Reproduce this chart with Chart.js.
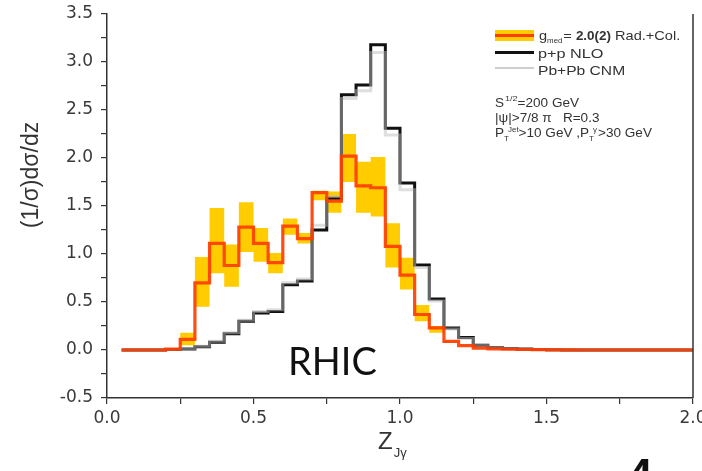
<!DOCTYPE html>
<html>
<head>
<meta charset="utf-8">
<script src="https://cdn.jsdelivr.net/npm/chart.js@4.4.1/dist/chart.umd.min.js"></script>
<style>
  html, body { margin: 0; padding: 0; background: #fff; }
  #wrap { width: 702px; height: 471px; position: relative; }
</style>
</head>
<body>
<div id="wrap"><canvas id="chart" width="702" height="471"></canvas></div>
<script>
// lower edge of each z bin (width 0.05)
const binEdges = [0.05, 0.10, 0.15, 0.20, 0.25, 0.30, 0.35, 0.40, 0.45, 0.50,
                  0.55, 0.60, 0.65, 0.70, 0.75, 0.80, 0.85, 0.90, 0.95, 1.00,
                  1.05, 1.10, 1.15, 1.20, 1.25, 1.30, 1.35, 1.40, 1.45, 1.50,
                  1.55, 1.60, 1.65, 1.70, 1.75, 1.80, 1.85, 1.90, 1.95];
const lastEdge = 2.0;

// g_med = 2.0(2) Rad.+Col.
const medValues = [0, 0, 0, 0.01, 0.11, 0.70, 1.11, 0.88, 1.28, 1.11,
                   0.91, 1.29, 1.16, 1.64, 1.55, 2.02, 1.71, 1.69, 1.08, 0.78,
                   0.37, 0.23, 0.09, 0.045, 0.02, 0.012, 0.008, 0.005, 0.003, 0.002,
                   0.001, 0, 0, 0, 0, 0, 0, 0, 0];
const medLow    = [0, 0, 0, 0.01, 0.05, 0.45, 0.80, 0.66, 1.02, 0.92,
                   0.80, 1.20, 1.11, 1.56, 1.43, 1.75, 1.43, 1.39, 0.86, 0.63,
                   0.30, 0.18, 0.08, 0.045, 0.02, 0.012, 0.008, 0.005, 0.003, 0.002,
                   0.001, 0, 0, 0, 0, 0, 0, 0, 0];
const medHigh   = [0, 0, 0, 0.01, 0.18, 0.97, 1.48, 1.10, 1.54, 1.27,
                   1.01, 1.37, 1.22, 1.66, 1.65, 2.25, 1.96, 2.01, 1.32, 0.96,
                   0.47, 0.25, 0.10, 0.045, 0.02, 0.012, 0.008, 0.005, 0.003, 0.002,
                   0.001, 0, 0, 0, 0, 0, 0, 0, 0];
// p+p NLO
const ppValues  = [0, 0, 0, 0.005, 0.01, 0.035, 0.08, 0.17, 0.30, 0.385,
                   0.40, 0.68, 0.72, 1.25, 1.58, 2.66, 2.76, 3.18, 2.31, 1.74,
                   0.885, 0.53, 0.23, 0.13, 0.05, 0.025, 0.015, 0.01, 0.006, 0.003,
                   0.001, 0, 0, 0, 0, 0, 0, 0, 0];
// Pb+Pb CNM
const cnmValues = [0, 0, 0, 0.005, 0.01, 0.04, 0.09, 0.18, 0.31, 0.40,
                   0.42, 0.70, 0.74, 1.30, 1.60, 2.62, 2.70, 3.10, 2.24, 1.67,
                   0.86, 0.51, 0.22, 0.12, 0.05, 0.025, 0.015, 0.01, 0.006, 0.003,
                   0.001, 0, 0, 0, 0, 0, 0, 0, 0];

const xTicks = [0.0, 0.5, 1.0, 1.5, 2.0];
const yTicks = [-0.5, 0.0, 0.5, 1.0, 1.5, 2.0, 2.5, 3.0, 3.5];

const FONT = "'Liberation Sans', Arial, sans-serif";
const TICKFONT = "'DejaVu Sans', sans-serif";
const TXT = '#333';

function steps(vals) {
    const pts = binEdges.map((x, i) => ({ x: x, y: vals[i] }));
    pts.push({ x: lastEdge, y: vals[vals.length - 1] });
    return pts;
}

function isMajor(v, list) { return list.some(t => Math.abs(t - v) < 1e-6); }

// 'before' in chart.js: horizontal at the previous value, then vertical
const lineBase = { stepped: 'before', pointRadius: 0, fill: false, tension: 0 };

// --- extra drawing: frame, legend, notes, titles ---
const decor = {
    id: 'decor',
    afterDraw(chart) {
        const ctx = chart.ctx, a = chart.chartArea;
        ctx.save();
        // right frame
        ctx.strokeStyle = TXT; ctx.lineWidth = 1.5;
        ctx.beginPath(); ctx.moveTo(a.right, a.top); ctx.lineTo(a.right, a.bottom); ctx.stroke();

        ctx.textBaseline = 'alphabetic';
        ctx.fillStyle = TXT;
        // text drawn slightly stretched sideways, like the scanned figure
        const put = (t, x, y, size, bold, sx) => {
            sx = sx || 1;
            ctx.font = (bold ? 'bold ' : '') + size + 'px ' + FONT;
            ctx.save();
            ctx.translate(x, y); ctx.scale(sx, 1);
            ctx.fillText(t, 0, 0);
            ctx.restore();
            return x + ctx.measureText(t).width * sx;
        };

        // legend
        ctx.fillStyle = '#ffcc00'; ctx.fillRect(495, 30, 39, 11);
        ctx.fillStyle = '#ff3d00'; ctx.fillRect(495, 34, 39, 3);
        ctx.fillStyle = '#111'; ctx.fillRect(495, 51, 39, 3);
        ctx.fillStyle = '#cfcfcf'; ctx.fillRect(495, 67, 39, 2);

        ctx.fillStyle = TXT;
        const s1 = 1.12;
        let x = put('g', 539, 40, 13, false, s1);
        x = put('med', x, 43, 7, false, s1);
        x = put('= ', x + 1, 40, 13, false, s1);
        x = put('2.0(2)', x, 40, 12, true, s1);
        put(' Rad.+Col.', x, 40, 13, false, s1);
        put('p+p NLO', 538, 58, 13, false, 1.25);
        put('Pb+Pb CNM', 538, 75, 13, false, 1.2);

        const s2 = 1.13;
        x = put('S', 495, 107, 12, false, s2);
        x = put('1/2', x + 1, 101, 8, false, s2);
        put('=200 GeV', x, 107, 12, false, s2);
        put('|\u03c8|>7/8 \u03c0   R=0.3', 495, 122, 12, false, s2);
        x = put('P', 495, 137, 12, false, s2);
        put('T', x, 141, 7, false, s2);
        x = put('Jet', x + 4, 132, 7, false, s2);
        x = put('>10 GeV ,P', x, 137, 12, false, s2);
        put('T', x, 141, 7, false, s2);
        x = put('\u03b3', x + 4, 132, 7, false, s2);
        put('>30 GeV', x + 1, 137, 12, false, s2);

        // RHIC label
        ctx.fillStyle = '#111';
        ctx.font = '38px Lato, ' + FONT;
        ctx.fillText('RHIC', 288, 375);

        // x title
        ctx.fillStyle = TXT;
        x = put('Z', 378, 449, 24);
        put('J\u03b3', x + 1, 457, 13);

        // y title
        ctx.save();
        ctx.translate(30, 175);
        ctx.rotate(-Math.PI / 2);
        ctx.textAlign = 'center';
        ctx.font = '23px ' + FONT;
        ctx.fillText('(1/\u03c3)d\u03c3/dz', 0, 8);
        ctx.restore();

        // cut page number
        ctx.fillStyle = '#111';
        ctx.textBaseline = 'top';
        ctx.font = 'bold 44px ' + FONT;
        ctx.fillText('4', 628, 456);
        ctx.restore();
    }
};

new Chart(document.getElementById('chart'), {
    type: 'line',
    data: {
        datasets: [
            { ...lineBase, label: 'g_med', data: steps(medValues), borderColor: 'rgba(255,61,0,0.92)', borderWidth: 3.2, order: 0 },
            { ...lineBase, label: 'Pb+Pb CNM', data: steps(cnmValues), borderColor: 'rgba(190,190,190,0.5)', borderWidth: 3, order: 1 },
            { ...lineBase, label: 'p+p NLO', data: steps(ppValues), borderColor: '#111', borderWidth: 3, order: 2 },
            { ...lineBase, label: 'band high', data: steps(medHigh), borderWidth: 0, borderColor: 'rgba(0,0,0,0)',
              fill: '+1', backgroundColor: '#ffcc00', order: 3 },
            { ...lineBase, label: 'band low', data: steps(medLow), borderWidth: 0, borderColor: 'rgba(0,0,0,0)', order: 4 }
        ]
    },
    options: {
        responsive: false,
        animation: false,
        layout: { padding: { top: 14, right: 9, left: 0, bottom: 0 } },
        plugins: { legend: { display: false }, tooltip: { enabled: false } },
        scales: {
            x: {
                type: 'linear', min: 0, max: 2,
                afterFit: s => { s.height = 73; s.paddingRight = 0; s.paddingLeft = 0; },
                ticks: {
                    stepSize: 0.25, autoSkip: false, maxRotation: 0, padding: 4,
                    color: '#3a3a3a', font: { family: TICKFONT, size: 17 },
                    callback: v => isMajor(v, xTicks) ? v.toFixed(1) : ''
                },
                grid: { drawOnChartArea: false, tickLength: 6, color: TXT, lineWidth: 1.2 },
                border: { color: TXT, width: 1.5 }
            },
            y: {
                type: 'linear', min: -0.5, max: 3.5,
                afterFit: s => { s.width = 107; s.paddingTop = 0; s.paddingBottom = 0; },
                ticks: {
                    stepSize: 0.25, autoSkip: false, padding: 8,
                    color: '#3a3a3a', font: { family: TICKFONT, size: 17 },
                    callback: v => isMajor(v, yTicks) ? v.toFixed(1) : ''
                },
                grid: { drawOnChartArea: false, tickLength: 6, color: TXT, lineWidth: 1.2 },
                border: { color: TXT, width: 1.5 }
            }
        }
    },
    plugins: [decor]
});
</script>
</body>
</html>
